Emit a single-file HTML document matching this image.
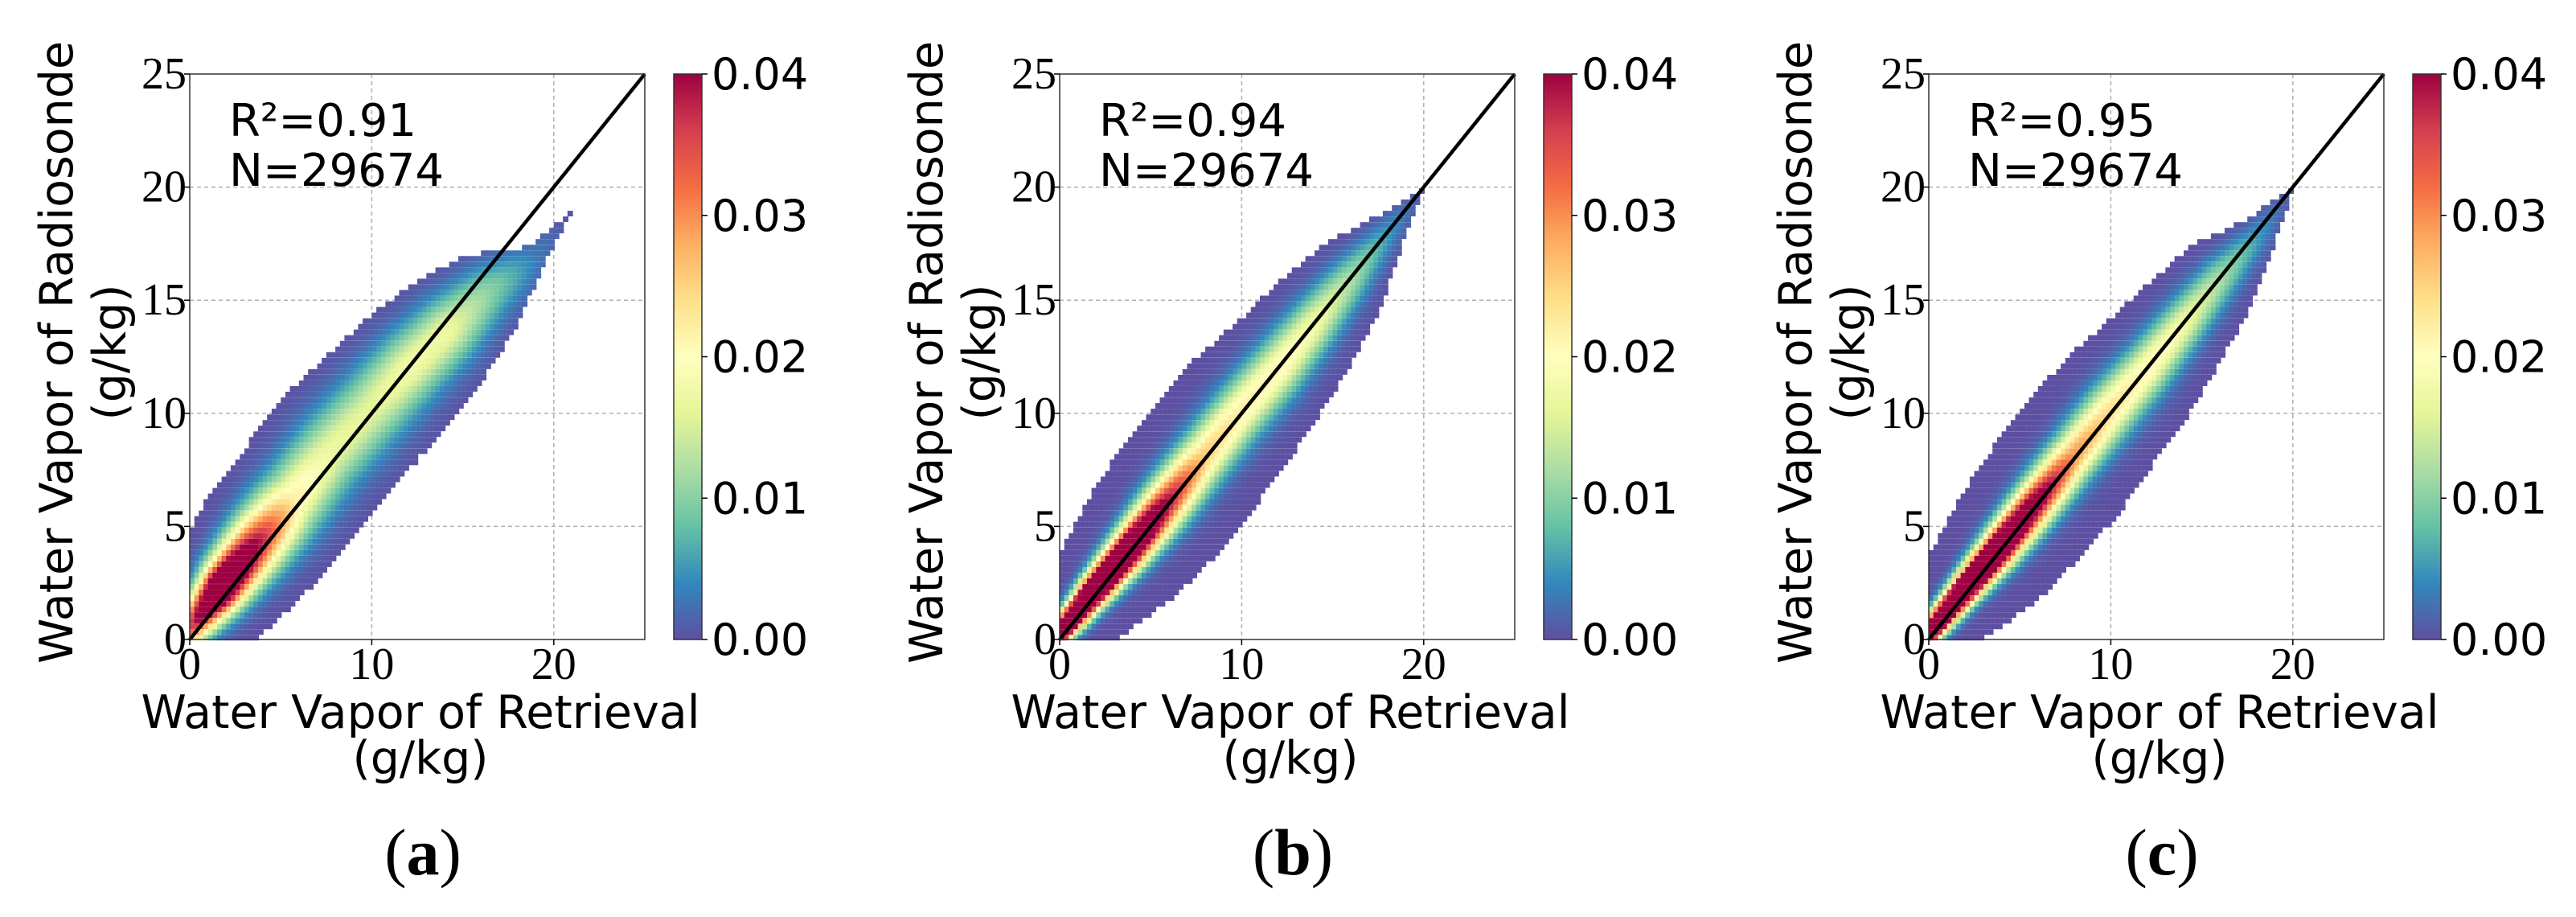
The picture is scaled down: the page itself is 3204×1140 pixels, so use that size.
<!DOCTYPE html>
<html><head><meta charset="utf-8">
<style>
html,body{margin:0;padding:0;background:#fff;}
svg{display:block;}
.tick{font-family:"Liberation Serif",serif;font-size:56px;fill:#000;}
.lab{font-family:"DejaVu Sans","Liberation Sans",sans-serif;fill:#000;}
.cap{font-family:"Liberation Serif",serif;font-size:82px;fill:#000;}
</style></head>
<body>
<svg id="fig" width="3204" height="1140" viewBox="0 0 3204 1140" xmlns="http://www.w3.org/2000/svg">
<defs>
<linearGradient id="spec" x1="0" y1="1" x2="0" y2="0">
<stop offset="0" stop-color="#5e4fa2"/><stop offset="0.1" stop-color="#3288bd"/><stop offset="0.2" stop-color="#66c2a5"/><stop offset="0.3" stop-color="#abdda4"/><stop offset="0.4" stop-color="#e6f598"/><stop offset="0.5" stop-color="#ffffbf"/><stop offset="0.6" stop-color="#fee08b"/><stop offset="0.7" stop-color="#fdae61"/><stop offset="0.8" stop-color="#f46d43"/><stop offset="0.9" stop-color="#d53e4f"/><stop offset="1" stop-color="#9e0142"/>
</linearGradient>
</defs>
</svg>
<script>
// ---- data ----
const panelNames = ["a", "b", "c"];
const r2Values = ["0.91", "0.94", "0.95"];
const nValues = ["29674", "29674", "29674"];
const axisTicksX = [0, 10, 20];
const axisTicksY = [0, 5, 10, 15, 20, 25];
const cbarTicks = [0.00, 0.01, 0.02, 0.03, 0.04];
const cbarTickLabels = ["0.00", "0.01", "0.02", "0.03", "0.04"];
// along-diagonal knots t=(x+y)/2
const tKnots = [0, 2, 4, 6, 8, 10, 12, 14, 16, 18, 20];
const peakA = [0.03, 0.06, 0.04, 0.022, 0.017, 0.016, 0.018, 0.017, 0.01, 0.003, 0.0];
const offsetA = [0.5, 0.6, 0.6, 0.5, 0.6, 0.3, 0.0, -0.5, -1.0, -2.0, -2.0];
const sigmaA = [0.8, 1.1, 1.4, 1.6, 1.7, 1.7, 1.6, 1.5, 1.3, 1.0, 0.6];
const extentA = [2.5, 4.2, 4.8, 5.0, 5.0, 4.8, 4.5, 4.0, 3.0, 0.8, 0.0];
const peakB = [0.06, 0.07, 0.06, 0.04, 0.026, 0.022, 0.021, 0.018, 0.012, 0.005, 0.0];
const offsetB = [0.3, 0.3, 0.2, 0.2, 0.2, 0.2, 0.0, 0.0, 0.0, 0.0, 0.0];
const sigmaB = [0.5, 0.7, 0.9, 1.1, 1.2, 1.25, 1.25, 1.15, 1.0, 0.7, 0.3];
const extentB = [2.0, 3.6, 4.5, 5.0, 5.0, 4.8, 4.3, 3.8, 3.0, 1.4, 0.0];
const peakC = [0.06, 0.07, 0.062, 0.045, 0.03, 0.024, 0.021, 0.018, 0.012, 0.005, 0.0];
const offsetC = [0.3, 0.3, 0.2, 0.2, 0.2, 0.2, 0.0, 0.0, 0.0, -0.2, 0.0];
const sigmaC = [0.5, 0.65, 0.85, 1.0, 1.1, 1.2, 1.15, 1.05, 0.95, 0.7, 0.3];
const extentC = [2.0, 3.5, 4.4, 4.8, 5.0, 4.7, 4.3, 3.7, 3.0, 1.4, 0.0];

const peaks = [peakA, peakB, peakC];
const offsets = [offsetA, offsetB, offsetC];
const sigmas = [sigmaA, sigmaB, sigmaC];
const extents = [extentA, extentB, extentC];

// ---- layout ----
const NS = "http://www.w3.org/2000/svg";
const svg = document.getElementById("fig");
const panelLeft = [236, 1318, 2399];
const top0 = 92, W = 566, H = 703, VMAX = 25, CMAX = 0.04;
const stops = [[94,79,162],[50,136,189],[102,194,165],[171,221,164],[230,245,152],[255,255,191],[254,224,139],[253,174,97],[244,109,67],[213,62,79],[158,1,66]];
function cmap(v){
  let f = Math.max(0, Math.min(1, v / CMAX)) * 10;
  let i = Math.min(9, Math.floor(f)), r = f - i;
  const a = stops[i], b = stops[i+1];
  return "rgb(" + [0,1,2].map(k => Math.round(a[k] + (b[k]-a[k])*r)).join(",") + ")";
}
function interp(arr, t){
  if (t <= tKnots[0]) return arr[0];
  for (let i = 0; i < tKnots.length-1; i++){
    if (t <= tKnots[i+1]){ const r = (t - tKnots[i])/(tKnots[i+1]-tKnots[i]); return arr[i] + (arr[i+1]-arr[i])*r; }
  }
  return arr[arr.length-1];
}
function mk(tag, attrs, parent){
  const e = document.createElementNS(NS, tag);
  for (const k in attrs) e.setAttribute(k, attrs[k]);
  (parent || svg).appendChild(e);
  return e;
}

panelNames.forEach((pn, p) => {
  const L = panelLeft[p];
  const sx = v => L + v / VMAX * W;
  const sy = v => top0 + H - v / VMAX * H;
  const g = mk("g", {});
  
  

  axisTicksX.forEach(v => {
    if (v === 0) return;
    const ln = mk("line", {x1: sx(v), x2: sx(v), y1: top0, y2: top0+H, stroke: "#b0b0b0", "stroke-width": 1.5, "stroke-dasharray": "5,4"}, g);
    
    
  });
  axisTicksY.forEach(v => {
    if (v === 0 || v === 25) return;
    const ln = mk("line", {x1: L, x2: L+W, y1: sy(v), y2: sy(v), stroke: "#b0b0b0", "stroke-width": 1.5, "stroke-dasharray": "5,4"}, g);
    
    
  });

  const cells = mk("g", {}, g);
  
  
  const step = 0.25, cw = step / VMAX * W;
  for (let x = 0; x < 22; x += step){
    for (let y = 0; y < 22; y += step){
      const xc = x + step/2, yc = y + step/2;
      const t = (xc + yc) / 2, d = yc - xc;
      const e = interp(extents[p], t);
      if (e <= 0) continue;
      const c = interp(offsets[p], t), s = interp(sigmas[p], t), pk = interp(peaks[p], t);
      if (Math.abs(d - c) > e) continue;
      const dens = pk * Math.exp(-((d-c)*(d-c)) / (2*s*s));
      const r = mk("rect", {x: sx(x).toFixed(1), y: (sy(y) - cw).toFixed(1), width: (cw+1.2).toFixed(1), height: (cw+1.2).toFixed(1), fill: cmap(dens)}, cells);
      
      
    }
  }

  const one = mk("line", {x1: sx(0), y1: sy(0), x2: sx(25), y2: sy(25), stroke: "#000", "stroke-width": 4.5}, g);
  
  

  const fr = mk("rect", {x: L, y: top0, width: W, height: H, fill: "none", stroke: "#333", "stroke-width": 1.5}, g);
  
  

  axisTicksX.forEach(v => {
    const tl = mk("line", {x1: sx(v), x2: sx(v), y1: top0+H, y2: top0+H+7, stroke: "#000", "stroke-width": 1.5}, g);
    
    
    const tx = mk("text", {x: sx(v), y: 844, "text-anchor": "middle", class: "tick"}, g);
    tx.textContent = v;
    
    
  });
  axisTicksY.forEach(v => {
    const tl = mk("line", {x1: L-7, x2: L, y1: sy(v), y2: sy(v), stroke: "#000", "stroke-width": 1.5}, g);
    
    
    const tx = mk("text", {x: L-4, y: sy(v)+18, "text-anchor": "end", class: "tick"}, g);
    tx.textContent = v;
    
    
  });

  const r2 = mk("text", {x: L+49, y: top0+77, class: "lab", "font-size": 56}, g);
  r2.textContent = "R²=" + r2Values[p];
  
  
  const nn = mk("text", {x: L+49, y: top0+139, class: "lab", "font-size": 56}, g);
  nn.textContent = "N=" + nValues[p];
  
  

  const xt1 = mk("text", {x: L+287, y: 905, "text-anchor": "middle", class: "lab", "font-size": 57}, g);
  xt1.textContent = "Water Vapor of Retrieval";
  
  
  const xt2 = mk("text", {x: L+287, y: 962, "text-anchor": "middle", class: "lab", "font-size": 57}, g);
  xt2.textContent = "(g/kg)";
  
  
  const yt1 = mk("text", {x: 0, y: 0, "text-anchor": "middle", class: "lab", "font-size": 57, transform: "translate(" + (L-146) + ",438) rotate(-90)"}, g);
  yt1.textContent = "Water Vapor of Radiosonde";
  
  
  const yt2 = mk("text", {x: 0, y: 0, "text-anchor": "middle", class: "lab", "font-size": 57, transform: "translate(" + (L-80) + ",438) rotate(-90)"}, g);
  yt2.textContent = "(g/kg)";
  
  

  const cx = L + 602, cwid = 35;
  const cb = mk("rect", {x: cx, y: top0, width: cwid, height: H, fill: "url(#spec)", stroke: "#333", "stroke-width": 1.5}, g);
  
  
  cbarTicks.forEach((v, i) => {
    const yy = top0 + H - v / CMAX * H;
    const tl = mk("line", {x1: cx+cwid, x2: cx+cwid+7, y1: yy, y2: yy, stroke: "#000", "stroke-width": 1.5}, g);
    
    
    const tx = mk("text", {x: cx+cwid+12, y: yy+19, class: "lab", "font-size": 54}, g);
    tx.textContent = cbarTickLabels[i];
    
    
  });

  const cap = mk("text", {x: L+290, y: 1087, "text-anchor": "middle", class: "cap"}, g);
  cap.innerHTML = '(<tspan font-weight="bold">' + pn + '</tspan>)';
  
  
});
</script>
</body></html>
